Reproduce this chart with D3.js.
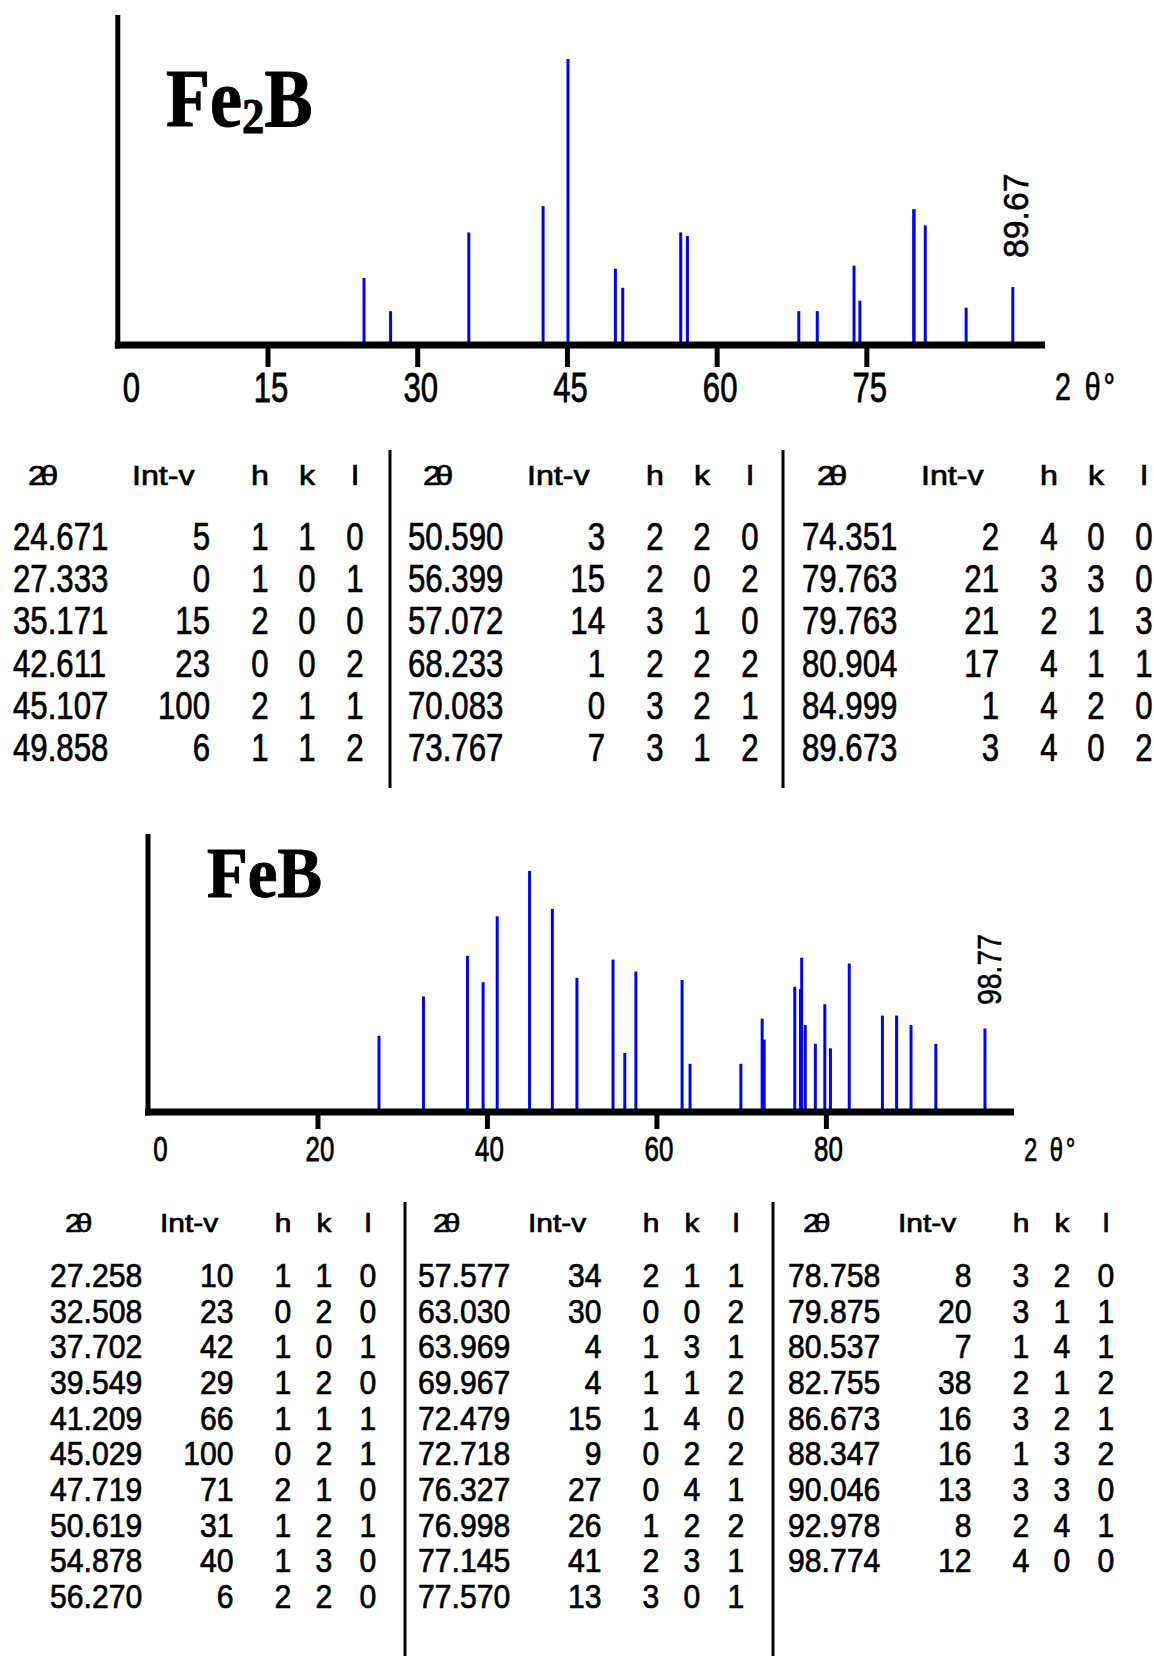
<!DOCTYPE html>
<html><head><meta charset="utf-8">
<script src="https://cdn.jsdelivr.net/npm/d3@7"></script>
<style>html,body{margin:0;padding:0;background:#fff;} svg{display:block}</style>
</head><body>
<script>
// ---------- Fe2B data ----------
const fe2bTheta = [24.671,27.333,35.171,42.611,45.107,49.858,50.590,56.399,57.072,68.233,70.083,73.767,74.351,79.763,79.763,80.904,84.999,89.673];
const fe2bInt   = [5,0,15,23,100,6,3,15,14,1,0,7,2,21,21,17,1,3];
const fe2bH     = [1,1,2,0,2,1,2,2,3,2,3,3,4,3,2,4,4,4];
const fe2bK     = [1,0,0,0,1,1,2,0,1,2,2,1,0,3,1,1,2,0];
const fe2bL     = [0,1,0,2,1,2,0,2,0,2,1,2,0,0,3,1,0,2];
// bar heights as drawn in the picture (relative intensity)
const fe2bBarInt = [5.5,1.4,15.5,23.6,100,7.1,4.0,15.5,14.5,1.4,1.4,7.7,2.4,22.5,22.5,17.5,1.7,4.1];
const fe2bTicks = [0,15,30,45,60,75];
const fe2bPeakLabel = "89.67";

// ---------- FeB data ----------
const febTheta = [27.258,32.508,37.702,39.549,41.209,45.029,47.719,50.619,54.878,56.270,
                  57.577,63.030,63.969,69.967,72.479,72.718,76.327,76.998,77.145,77.570,
                  78.758,79.875,80.537,82.755,86.673,88.347,90.046,92.978,98.774];
const febInt   = [10,23,42,29,66,100,71,31,40,6, 34,30,4,4,15,9,27,26,41,13, 8,20,7,38,16,16,13,8,12];
const febH     = [1,0,1,1,1,0,2,1,1,2, 2,0,1,1,1,0,0,1,2,3, 3,3,1,2,3,1,3,2,4];
const febK     = [1,2,0,2,1,2,1,2,3,2, 1,0,3,1,4,2,4,2,3,0, 2,1,4,1,2,3,3,4,0];
const febL     = [0,0,1,0,1,1,0,1,0,0, 1,2,1,2,0,2,1,2,1,1, 0,1,1,2,1,2,0,1,0];
const febTicks = [0,20,40,60,80];
const febPeakLabel = "98.77";

const FONT = "'Liberation Sans', Arial, sans-serif";
const SERIF = "'Liberation Serif', 'Times New Roman', serif";

const svg = d3.select("body").append("svg").attr("width",1154).attr("height",1656);

function txt(parent, x, y, s, size, sx, anchor) {
  return parent.append("text")
    .attr("transform", `translate(${x},${y}) scale(${sx},1)`)
    .attr("text-anchor", anchor || "start")
    .attr("font-family", FONT).attr("font-size", size).attr("fill", "#000")
    .attr("stroke", "#000").attr("stroke-width", 0.7)
    .text(s);
}

function drawChart(cfg) {
  const x = d3.scaleLinear().domain(cfg.xDomain).range(cfg.xRange);
  const y = d3.scaleSqrt().domain([0,100]).range([cfg.base, cfg.top100]);
  const g = svg.append("g");

  g.selectAll("line.bar")
    .data(cfg.theta.map((t,i)=>({t:t, v:cfg.barInt[i]})))
    .join("line").attr("class","bar")
    .attr("x1", d=>x(d.t)).attr("x2", d=>x(d.t))
    .attr("y1", y(0)).attr("y2", d=>y(d.v))
    .attr("stroke", "#0000ff").attr("stroke-width", 3);

  // y axis line
  g.append("line")
    .attr("x1", x(0)).attr("x2", x(0))
    .attr("y1", cfg.axisTop).attr("y2", cfg.base + 3.5)
    .attr("stroke", "#000").attr("stroke-width", 5);

  // x axis
  const ax = g.append("g").attr("transform", `translate(0,${cfg.base})`)
    .call(d3.axisBottom(x).tickValues(cfg.ticks).tickSize(cfg.tickLen).tickSizeOuter(0).tickFormat(d3.format("d")));
  ax.attr("color", "#000");
  ax.select(".domain").attr("stroke", "#000").attr("stroke-width", 7)
    .attr("d", `M${x(0)-3},0H${cfg.xRange[1]}`);
  ax.selectAll(".tick line").attr("stroke-width", 5).attr("opacity", d => d === 0 ? 0 : 1);
  ax.selectAll(".tick text")
    .attr("y", cfg.labelY).attr("dy", 0)
    .attr("font-family", FONT).attr("font-size", cfg.labelSize).attr("fill", "#000")
    .attr("stroke", "#000").attr("stroke-width", 0.8)
    .attr("transform", d => `translate(${d===0 ? cfg.zeroDx : cfg.labelDx},0) scale(${cfg.labelSx},1)`);

  // unit label
  txt(g, cfg.unitX, cfg.unitY, "2 θ°", cfg.labelSize * 0.92, cfg.labelSx, "start").attr("letter-spacing", 4);

  // rotated peak label
  g.append("text")
    .attr("transform", `translate(${cfg.peakX},${cfg.peakY}) rotate(-90) scale(${cfg.peakSx},1)`)
    .attr("font-family", FONT).attr("font-size", cfg.peakSize).attr("fill", "#000")
    .attr("stroke", "#000").attr("stroke-width", 0.6)
    .text(cfg.peakLabel);

  // title
  const t = g.append("text")
    .attr("transform", `translate(${cfg.titleX},${cfg.titleY}) scale(${cfg.titleSx},1)`)
    .attr("font-family", SERIF).attr("font-weight", "bold").attr("font-size", cfg.titleSize).attr("fill", "#000")
    .attr("stroke", "#000").attr("stroke-width", 1);
  cfg.title.forEach(p => {
    const ts = t.append("tspan").text(p.s);
    if (p.sub) ts.attr("font-size", cfg.titleSize * 0.62).attr("dy", cfg.titleSize * 0.08);
    else if (p.after) ts.attr("dy", -cfg.titleSize * 0.08);
  });
}

function drawTable(cfg) {
  const g = svg.append("g");
  const fmt = d3.format(".3f");
  const n = cfg.rowsPerGroup;
  cfg.groupX.forEach((gx, gi) => {
    txt(g, gx + cfg.off.thHdr, cfg.headerY, "2θ", cfg.hdrSize, cfg.hdrSx, "start").attr("letter-spacing", -5);
    txt(g, gx + cfg.off.intHdr, cfg.headerY, "Int-v", cfg.hdrSize, cfg.hdrSx, "start");
    txt(g, gx + cfg.off.h, cfg.headerY, "h", cfg.hdrSize, cfg.hdrSx, "middle");
    txt(g, gx + cfg.off.k, cfg.headerY, "k", cfg.hdrSize, cfg.hdrSx, "middle");
    txt(g, gx + cfg.off.l, cfg.headerY, "l", cfg.hdrSize, cfg.hdrSx, "middle");
    for (let r = 0; r < n; r++) {
      const i = gi * n + r;
      if (i >= cfg.theta.length) break;
      const yy = cfg.rowY0 + r * cfg.rowDy;
      txt(g, gx, yy, fmt(cfg.theta[i]), cfg.size, cfg.sx, "start");
      txt(g, gx + cfg.off.int, yy, String(cfg.int[i]), cfg.size, cfg.sx, "end");
      txt(g, gx + cfg.off.h, yy, String(cfg.h[i]), cfg.size, cfg.sx, "middle");
      txt(g, gx + cfg.off.k, yy, String(cfg.k[i]), cfg.size, cfg.sx, "middle");
      txt(g, gx + cfg.off.l, yy, String(cfg.l[i]), cfg.size, cfg.sx, "middle");
    }
  });
  cfg.sepX.forEach(sx => {
    g.append("line").attr("x1", sx).attr("x2", sx).attr("y1", cfg.sepY[0]).attr("y2", cfg.sepY[1])
      .attr("stroke", "#000").attr("stroke-width", 3);
  });
}

// ---------- Fe2B ----------
drawChart({
  theta: fe2bTheta, barInt: fe2bBarInt, ticks: fe2bTicks,
  xDomain: [0, 92.9], xRange: [117.8, 1045],
  base: 345, top100: 59, axisTop: 15, tickLen: 22,
  labelY: 57, labelSize: 42, labelSx: 0.74, labelDx: 3, zeroDx: 13,
  unitX: 1055, unitY: 400,
  peakLabel: fe2bPeakLabel, peakX: 1028, peakY: 258, peakSize: 36, peakSx: 0.94,
  title: [{s:"Fe"},{s:"2", sub:true},{s:"B", after:true}],
  titleX: 166, titleY: 126, titleSize: 82, titleSx: 0.88
});
drawTable({
  theta: fe2bTheta, int: fe2bInt, h: fe2bH, k: fe2bK, l: fe2bL,
  rowsPerGroup: 6, groupX: [13, 408, 802],
  headerY: 485, rowY0: 550, rowDy: 42.2,
  size: 39, sx: 0.8, hdrSize: 28, hdrSx: 1.15,
  off: {thHdr: 15, intHdr: 119, int: 197, h: 247, k: 294, l: 342},
  sepX: [390, 783], sepY: [450, 788]
});

// ---------- FeB ----------
drawChart({
  theta: febTheta, barInt: febInt, ticks: febTicks,
  xDomain: [0, 102.2], xRange: [148, 1014],
  base: 1112, top100: 871, axisTop: 834, tickLen: 17,
  labelY: 49, labelSize: 36, labelSx: 0.72, labelDx: 2, zeroDx: 12,
  unitX: 1024, unitY: 1161,
  peakLabel: febPeakLabel, peakX: 1001, peakY: 1005, peakSize: 33, peakSx: 0.86,
  title: [{s:"FeB"}],
  titleX: 207, titleY: 897, titleSize: 71, titleSx: 0.94
});
drawTable({
  theta: febTheta, int: febInt, h: febH, k: febK, l: febL,
  rowsPerGroup: 10, groupX: [50, 418, 788],
  headerY: 1232, rowY0: 1287, rowDy: 35.67,
  size: 33.5, sx: 0.9, hdrSize: 26, hdrSx: 1.15,
  off: {thHdr: 15, intHdr: 110, int: 183.5, h: 233, k: 274, l: 318},
  sepX: [405, 773], sepY: [1202, 1656]
});
</script>
</body></html>
